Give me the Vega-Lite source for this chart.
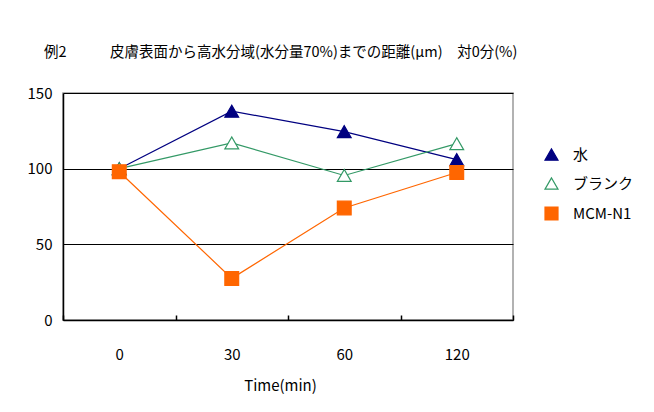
{
  "$schema": "https://vega.github.io/schema/vega-lite/v6.json",
  "width": 450,
  "height": 227,
  "autosize": {"type": "none"},
  "padding": {"left": 63, "top": 93, "right": 141, "bottom": 92},
  "background": "white",
  "title": {
    "text": "例2　　　皮膚表面から高水分域(水分量70%)までの距離(μm)　対0分(%)",
    "anchor": "start",
    "frame": "group",
    "dx": -19,
    "offset": 26,
    "fontSize": 14.5,
    "fontWeight": "normal",
    "font": "Noto Sans CJK JP",
    "color": "black"
  },
  "config": {
    "view": {"stroke": "#999999", "strokeWidth": 1.5},
    "font": "Noto Sans CJK JP"
  },
  "data": {
    "values": [
      {"time": "0", "series": "水", "value": 100},
      {"time": "30", "series": "水", "value": 138},
      {"time": "60", "series": "水", "value": 124.5},
      {"time": "120", "series": "水", "value": 106},
      {"time": "0", "series": "ブランク", "value": 100},
      {"time": "30", "series": "ブランク", "value": 117},
      {"time": "60", "series": "ブランク", "value": 95.5},
      {"time": "120", "series": "ブランク", "value": 116.5},
      {"time": "0", "series": "MCM-N1", "value": 98},
      {"time": "30", "series": "MCM-N1", "value": 27.5},
      {"time": "60", "series": "MCM-N1", "value": 74},
      {"time": "120", "series": "MCM-N1", "value": 97.5}
    ]
  },
  "encoding": {
    "x": {
      "field": "time",
      "type": "ordinal",
      "sort": ["0", "30", "60", "120"],
      "scale": {"type": "band", "paddingInner": 0, "paddingOuter": 0},
      "axis": {
        "title": "Time(min)",
        "labelAngle": 0,
        "domainColor": "black",
        "domainWidth": 1.5,
        "tickBand": "extent",
        "tickColor": "black",
        "tickWidth": 1.5,
        "tickSize": -5,
        "labelPadding": 32,
        "labelFontSize": 15,
        "labelColor": "black",
        "titleFontSize": 15,
        "titleFontWeight": "normal",
        "titleColor": "black",
        "titlePadding": 16,
        "titleX": 217,
        "grid": false
      }
    },
    "y": {
      "field": "value",
      "type": "quantitative",
      "scale": {"domain": [0, 150], "nice": false},
      "axis": {
        "title": null,
        "values": [0, 50, 100, 150],
        "grid": true,
        "gridColor": "black",
        "gridWidth": 1.2,
        "gridOpacity": 1,
        "domainColor": "black",
        "domainWidth": 1.5,
        "ticks": false,
        "labelPadding": 11,
        "labelFontSize": 15,
        "labelColor": "black"
      }
    }
  },
  "layer": [
    {
      "mark": {"type": "line", "strokeWidth": 1.2},
      "encoding": {
        "color": {
          "field": "series",
          "type": "nominal",
          "scale": {"domain": ["水", "ブランク", "MCM-N1"], "range": ["#000080", "#339966", "#FF6600"]},
          "legend": {
            "title": null,
            "orient": "none",
            "legendX": 481,
            "legendY": 54,
            "symbolSize": 169,
            "symbolStrokeWidth": 1.2,
            "labelFontSize": 15,
            "labelColor": "black",
            "labelOffset": 14,
            "rowPadding": 12,
            "encode": {
              "symbols": {
                "update": {
                  "shape": {"signal": "datum.value === 'MCM-N1' ? 'M -2.8 -0.02 L -1 -0.02 L -1 0.02 L -2.8 0.02 Z M 1 -0.02 L 2.8 -0.02 L 2.8 0.02 L 1 0.02 Z M -1 -1 L 1 -1 L 1 1 L -1 1 Z' : 'M -2.8 -0.02 L -0.6 -0.02 L -0.6 0.02 L -2.8 0.02 Z M 0.6 -0.02 L 2.8 -0.02 L 2.8 0.02 L 0.6 0.02 Z M 0 -1 L 1 0.85 L -1 0.85 Z'"},
                  "fill": {"signal": "datum.value === 'MCM-N1' ? '#FF6600' : datum.value === 'ブランク' ? 'white' : '#000080'"},
                  "fillOpacity": {"value": 1}
                }
              }
            }
          }
        }
      }
    },
    {
      "mark": {"type": "point", "opacity": 1, "strokeWidth": 1.2, "size": 190},
      "encoding": {
        "shape": {
          "field": "series",
          "type": "nominal",
          "scale": {"domain": ["水", "ブランク", "MCM-N1"], "range": ["triangle-up", "triangle-up", "square"]},
          "legend": null
        },
        "fill": {
          "field": "series",
          "type": "nominal",
          "scale": {"domain": ["水", "ブランク", "MCM-N1"], "range": ["#000080", "white", "#FF6600"]},
          "legend": null
        },
        "stroke": {
          "field": "series",
          "type": "nominal",
          "scale": {"domain": ["水", "ブランク", "MCM-N1"], "range": ["#000080", "#339966", "#FF6600"]},
          "legend": null
        }
      }
    }
  ]
}
